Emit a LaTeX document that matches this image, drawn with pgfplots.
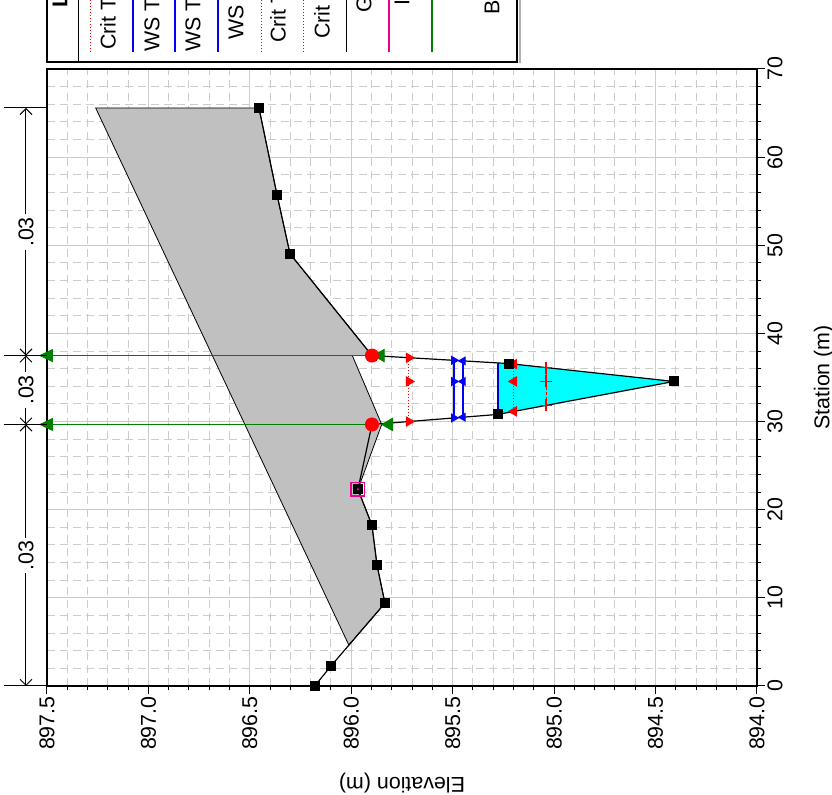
\documentclass[border=0pt]{standalone}
\usepackage{pgfplots}
\pgfplotsset{compat=1.18}
\usepackage{fontspec}
\setmainfont{Liberation Sans}
\usetikzlibrary{arrows.meta}
\definecolor{deck}{RGB}{192,192,192}
\definecolor{gridc}{RGB}{204,204,204}
\definecolor{levgreen}{RGB}{0,128,0}
\definecolor{water}{RGB}{0,255,255}
\definecolor{wsblue}{RGB}{0,0,255}
\begin{document}
\begin{tikzpicture}[font=\fontsize{10.7}{12.8}\selectfont]
\begin{axis}[
  at={(23.5pt,54.5pt)}, anchor=south west,
  scale only axis, width=355pt, height=308.5pt,
  xmin=894, xmax=897.5, x dir=reverse,
  ymin=0, ymax=70,
  xtick={894,894.5,895,895.5,896,896.5,897,897.5},
  ytick={0,10,20,30,40,50,60,70},
  minor x tick num=4, minor y tick num=4,
  xtick pos=left, ytick pos=right,
  yticklabel pos=right,
  tick align=outside,
  major tick length=4pt, minor tick length=2.2pt,
  every tick/.style={black, line width=0.5pt},
  xticklabel={\pgfmathprintnumber[fixed,fixed zerofill,precision=1,assume math mode=true]{\tick}},
  yticklabel={\pgfmathprintnumber[assume math mode=true]{\tick}},
  xticklabel style={rotate=90, anchor=east, inner sep=1pt},
  yticklabel style={rotate=90, anchor=north, inner sep=1pt},
  grid=both,
  major grid style={gridc, line width=0.5pt},
  minor grid style={gridc, line width=0.5pt, dash pattern=on 4pt off 2.5pt},
  axis line style={line width=0.6pt},
  xlabel={Elevation (m)}, ylabel={Station (m)},
  every axis x label/.style={at={(axis description cs:0.5,-0.158)}, anchor=center, rotate=180},
  every axis y label/.style={at={(axis description cs:1.094,0.5)}, anchor=center, rotate=90},
  clip=false,
]
% bridge deck
\addplot[fill=deck, draw=black, line width=0.4pt] coordinates {
 (897.26,65.58) (896.455,65.58) (896.366,55.72) (896.302,49.04) (895.898,37.49)
 (895.995,37.49) (895.85,29.67) (895.967,22.31) (895.898,18.24) (895.873,13.70)
 (895.834,9.40) (896.012,4.64)} -- cycle;
% water
\addplot[fill=water, draw=none] coordinates {
 (895.277,30.81) (894.409,34.55) (895.223,36.58) (895.277,36.65)} -- cycle;
\addplot[color=blue!80!black, line width=0.6pt] coordinates {(895.277,30.81) (895.277,36.65)};
% green lines
\addplot[color=levgreen, line width=0.6pt, -{Triangle[length=7pt,width=6.5pt]}] coordinates {(895.898,29.67) (897.54,29.67)};
\addplot[color=levgreen, line width=0.6pt, -{Triangle[length=7pt,width=6.5pt]}] coordinates {(895.898,37.49) (897.54,37.49)};
% crit / WS lines
\addplot[color=red, densely dotted, line width=0.5pt, mark=triangle*, mark size=2.6pt, mark options={solid, rotate=-90, fill=red}] coordinates {(895.716,30.0) (895.716,34.55) (895.716,37.24)};
\addplot[color=wsblue, line width=0.6pt, mark=triangle*, mark size=2.1pt, mark options={rotate=-90, fill=wsblue}] coordinates {(895.494,30.41) (895.494,34.55) (895.494,36.95)};
\addplot[color=wsblue, line width=0.6pt, mark=triangle*, mark size=2.1pt, mark options={rotate=90, fill=wsblue}] coordinates {(895.449,30.49) (895.449,34.55) (895.449,36.88)};
\addplot[color=red, densely dotted, line width=0.5pt, mark=triangle*, mark size=2.6pt, mark options={solid, rotate=90, fill=red}] coordinates {(895.198,31.15) (895.198,34.55) (895.198,36.52)};
\addplot[color=red, dash pattern=on 1.5pt off 1pt, line width=0.5pt, mark=+, mark size=3pt, mark options={solid, line width=0.6pt}] coordinates {(895.04,31.83) (895.04,34.55) (895.04,36.12)};
% ground
\addplot[color=black, line width=0.6pt, mark=square*, mark size=2.2pt, mark options={fill=black}] coordinates {
 (896.18,0) (896.10,2.27) (895.834,9.40) (895.873,13.70) (895.898,18.24) (895.967,22.31)
 (895.898,29.67) (895.277,30.81) (894.409,34.55) (895.223,36.58) (895.898,37.49)
 (896.302,49.04) (896.366,55.72) (896.455,65.58)};
% ineffective marker
\addplot[only marks, mark=square, mark size=3.4pt, mark options={draw=magenta, line width=0.7pt}] coordinates {(895.967,22.31)};
\addplot[only marks, mark=*, mark size=0.4pt, mark options={draw=magenta, fill=magenta}] coordinates {(895.967,22.31)};
% green triangles
\addplot[only marks, mark=triangle*, mark size=3.6pt, mark options={rotate=90, fill=levgreen, draw=levgreen}] coordinates {(895.814,29.67) (895.855,37.49)};
% bank stations
\addplot[only marks, mark=*, mark size=3.3pt, mark options={fill=red, draw=red}] coordinates {(895.898,29.67) (895.898,37.49)};
% Manning's n annotation
\draw[line width=0.5pt] (axis cs:897.712,65.58) -- (axis cs:897.5,65.58);
\draw[line width=0.5pt] (axis cs:897.712,37.49) -- (axis cs:897.5,37.49);
\draw[line width=0.5pt] (axis cs:897.712,29.67) -- (axis cs:897.5,29.67);
\draw[line width=0.5pt] (axis cs:897.712,0) -- (axis cs:897.5,0);
\draw[line width=0.5pt, {Straight Barb[length=3pt,width=6pt]}-{Straight Barb[length=3pt,width=6pt]}] (axis cs:897.6035,65.58) -- (axis cs:897.6035,37.49);
\draw[line width=0.5pt, {Straight Barb[length=3pt,width=6pt]}-{Straight Barb[length=3pt,width=6pt]}] (axis cs:897.6035,37.49) -- (axis cs:897.6035,29.67);
\draw[line width=0.5pt, {Straight Barb[length=3pt,width=6pt]}-{Straight Barb[length=3pt,width=6pt]}] (axis cs:897.6035,29.67) -- (axis cs:897.6035,0);
\node[rotate=90, fill=white, inner sep=1.5pt] at (axis cs:897.6035,51.5) {.03};
\node[rotate=90, fill=white, inner sep=1.5pt] at (axis cs:897.6035,33.58) {.03};
\node[rotate=90, fill=white, inner sep=1.5pt] at (axis cs:897.6035,14.8) {.03};
\end{axis}
% legend (cut off at the top, as in the reference)
\fill[gray!60] (259.3pt,366pt) rectangle (260.3pt,410pt);
\draw[line width=0.6pt, fill=white] (23.5pt,366.5pt) rectangle (258.5pt,410pt);
\draw[line width=0.5pt] (39pt,366.5pt) -- (39pt,410pt);
\node[rotate=90, anchor=west, inner sep=0pt, font=\fontsize{10.7}{12.8}\selectfont\bfseries] at (30pt,393.5pt) {L};
\draw[red, densely dotted, line width=0.5pt] (45pt,371.5pt) -- (45pt,410pt);
\draw[wsblue, line width=0.6pt] (66.5pt,371.5pt) -- (66.5pt,410pt);
\draw[wsblue, line width=0.6pt] (87.5pt,371.5pt) -- (87.5pt,410pt);
\draw[wsblue, line width=0.6pt] (109pt,371.5pt) -- (109pt,410pt);
\draw[red, densely dotted, line width=0.5pt] (130.5pt,371.5pt) -- (130.5pt,410pt);
\draw[red, densely dotted, line width=0.5pt] (151.5pt,371.5pt) -- (151.5pt,410pt);
\draw[black, line width=0.5pt] (173pt,371.5pt) -- (173pt,410pt);
\draw[magenta, line width=0.6pt] (194.5pt,371.5pt) -- (194.5pt,410pt);
\draw[levgreen, line width=0.6pt] (216pt,371.5pt) -- (216pt,410pt);
\node[rotate=90, anchor=west, inner sep=0pt] at (54pt,372.5pt) {Crit T};
\node[rotate=90, anchor=west, inner sep=0pt] at (76pt,371.5pt) {WS T};
\node[rotate=90, anchor=west, inner sep=0pt] at (96.5pt,371.5pt) {WS T};
\node[rotate=90, anchor=west, inner sep=0pt] at (118pt,377.5pt) {WS};
\node[rotate=90, anchor=west, inner sep=0pt] at (139pt,376pt) {Crit T};
\node[rotate=90, anchor=west, inner sep=0pt] at (161pt,378pt) {Crit};
\node[rotate=90, anchor=west, inner sep=0pt] at (182pt,391pt) {G};
\node[rotate=90, anchor=west, inner sep=0pt] at (201pt,394.5pt) {I};
\node[rotate=90, anchor=west, inner sep=0pt] at (246pt,390pt) {B};
\pgfresetboundingbox
\useasboundingbox (0pt,0pt) rectangle (416pt,397.5pt);
\end{tikzpicture}
\end{document}
